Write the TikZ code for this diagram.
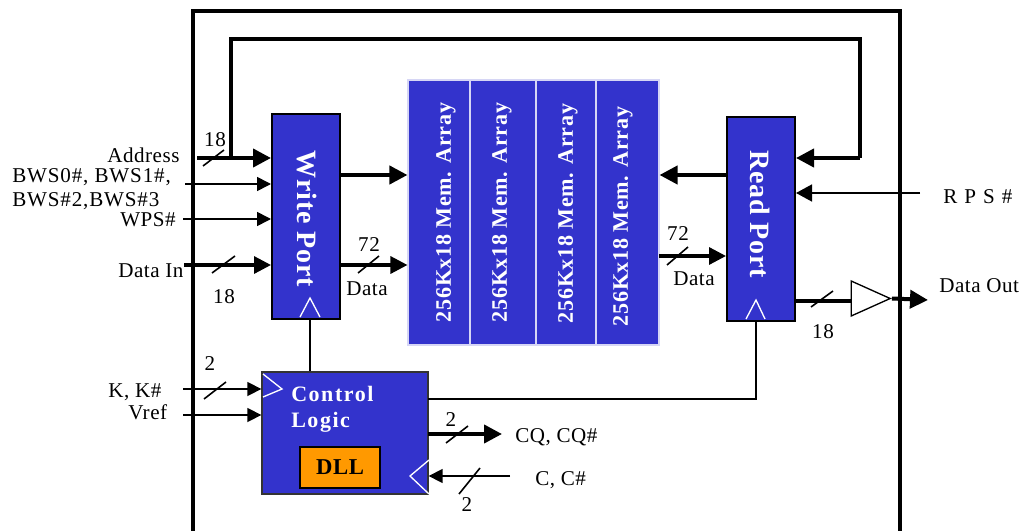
\documentclass[tikz,border=0pt]{standalone}
\usepackage{fontspec}
\setmainfont[LetterSpace=2.5]{Liberation Serif}
\newfontfamily\spacedbf[LetterSpace=3,BoldFont={Liberation Serif Bold}]{Liberation Serif}
\newfontfamily\ctlbf[LetterSpace=7,BoldFont={Liberation Serif Bold}]{Liberation Serif}
\newfontfamily\wideser[LetterSpace=4]{Liberation Serif}
\newfontfamily\plainser{Liberation Serif}
\usetikzlibrary{arrows.meta,shapes.geometric}
\def\px{0.75pt}
\definecolor{blk}{HTML}{3333CC}
\definecolor{dllorange}{HTML}{FF9900}
\tikzset{
  x=0.75pt,y=-0.75pt,
  lab/.style={inner sep=0pt,font=\fontsize{15.8pt}{17pt}\selectfont},
  labl/.style={lab,anchor=west},
  block/.style={draw=black,line width=1.5pt,fill=blk,inner sep=0pt,text=white},
  memcell/.style={draw=white!80!blk,line width=0.8pt,fill=blk,inner sep=0pt,minimum width=#1*\px,minimum height=265*\px},
  portlab/.style={text=white,inner sep=0pt,rotate=-90,font=\fontsize{21pt}{23pt}\spacedbf\bfseries},
  memlab/.style={text=white,inner sep=0pt,rotate=90,font=\fontsize{16.6pt}{18pt}\spacedbf\bfseries},
  ctllab/.style={inner sep=0pt,text=white,anchor=west,font=\fontsize{16.5pt}{18pt}\ctlbf\bfseries},
  thin arrow/.style={line width=1.2pt,-{Triangle[length=14*\px,width=14*\px]}},
  mid arrow/.style={line width=2.4pt,-{Triangle[length=17*\px,width=17*\px]}},
  thick arrow/.style={line width=3pt,-{Triangle[length=18*\px,width=18*\px]}},
  slash/.style={line width=1.2pt},
  wire/.style={line width=1.3pt},
  chev/.style={white,line width=1pt},
}
\begin{document}
\begin{tikzpicture}
\useasboundingbox (0,0) rectangle (1023,531);
% frame
\coordinate (fa) at (193,531); \coordinate (fb) at (193,11);
\coordinate (fc) at (900,11); \coordinate (fd) at (900,531);
\draw[line width=2.5pt] (fa) -- (fb) -- (fc) -- (fd);
% blocks
\node[block,minimum width=68*\px,minimum height=205*\px] (wp) at (306,216.5) {};
\node[block,minimum width=68*\px,minimum height=204*\px] (rp) at (761,219) {};
\node[portlab] (wpl) at (307,219) {Write Port};
\node[portlab] (rpl) at (760,214) {Read Port};
\node[memcell=62] (m1) at (439,212.5) {};
\node[memcell=66] (m2) at (503,212.5) {};
\node[memcell=60] (m3) at (566,212.5) {};
\node[memcell=63] (m4) at (627.5,212.5) {};
\node[memlab] (m1l) at (446,212.5) {256Kx18 Mem. Array};
\node[memlab] (m2l) at (502,212.5) {256Kx18 Mem. Array};
\node[memlab] (m3l) at (568,213.5) {256Kx18 Mem. Array};
\node[memlab] (m4l) at (623,216.5) {256Kx18 Mem. Array};
\node[draw=black!80,line width=1pt,fill=blk,inner sep=0pt,minimum width=166*\px,minimum height=122*\px] (cl) at (345,433) {};
\node[ctllab] (cl1) at (291,394) {Control};
\node[ctllab] (cl2) at (291,422) {Logic};
\node[draw=black,line width=1.2pt,fill=dllorange,inner sep=0pt,minimum width=80*\px,minimum height=41*\px,font=\fontsize{17pt}{18pt}\spacedbf\bfseries] (dll) at (340,467.5) {DLL};
% chevrons
\coordinate (wa) at (300,317); \coordinate (wb) at (310,298); \coordinate (wc) at (320,317);
\draw[chev] (wa) -- (wb) -- (wc);
\coordinate (ra) at (746,319); \coordinate (rb) at (756,300); \coordinate (rc) at (765,319);
\draw[chev] (ra) -- (rb) -- (rc);
\coordinate (ka) at (263,374); \coordinate (kb) at (282,389); \coordinate (kc) at (263,397);
\draw[chev] (ka) -- (kb) -- (kc);
\coordinate (ca) at (429,460); \coordinate (cb) at (410,476); \coordinate (cc) at (429,494);
\draw[chev] (ca) -- (cb) -- (cc);
% free ends
\coordinate (sAddr) at (197,158);
\coordinate (sBws) at (185,184);
\coordinate (sWps) at (183,219);
\coordinate (sDin) at (184,265);
\coordinate (sK) at (183,389);
\coordinate (sV) at (183,415);
\coordinate (sRps) at (920,193);
\coordinate (eCq) at (502,434);
\coordinate (sC) at (510,476);
\coordinate (eOut) at (928,300);
\coordinate (busJ) at (231,158);
\coordinate (busA) at (231,39);
\coordinate (busB) at (860,39);
\coordinate (busC) at (860,158);
\coordinate (clkJ) at (756,399);
% buffer
\node[isosceles triangle,isosceles triangle stretches,draw=black,line width=1pt,fill=white,inner sep=0pt,minimum height=39*\px,minimum width=35*\px] (buf) at (862.5,298.5) {};
% connectors
\draw[thick arrow] (sAddr) -- (sAddr -| wp.west);
\draw[line width=3pt] (busJ) -- (busA) -- (busB) -- (busC);
\draw[thick arrow] (busC) -- (busC -| rp.east);
\draw[thin arrow] (sBws) -- (sBws -| wp.west);
\draw[thin arrow] (sWps) -- (sWps -| wp.west);
\draw[mid arrow] (sDin) -- (sDin -| wp.west);
\coordinate (wo1) at (340,175);
\coordinate (wo2) at (340,265);
\draw[thick arrow] (wo1) -- (wo1 -| m1.west);
\draw[mid arrow] (wo2) -- (wo2 -| m1.west);
\coordinate (ro1) at (727,175);
\coordinate (ro2) at (659,256);
\draw[thick arrow] (ro1) -- (ro1 -| m4.east);
\draw[mid arrow] (ro2) -- (ro2 -| rp.west);
\draw[line width=1.2pt,-{Triangle[length=16*\px,width=17*\px]}] (sRps) -- (sRps -| rp.east);
\coordinate (ro3) at (795,301);
\draw[line width=3pt] (ro3) -- (ro3 -| buf.west);
\draw[thick arrow] (buf.apex) -- (eOut);
\draw[wire] (wp.south -| wb) -- (cl.north -| wb);
\coordinate (clR) at (428,399);
\draw[wire] (clR) -- (clkJ) -- (clkJ |- rp.south);
\draw[thin arrow] (sK) -- (sK -| cl.west);
\draw[thin arrow] (sV) -- (sV -| cl.west);
\coordinate (clO) at (428,434);
\draw[thick arrow] (clO) -- (eCq);
\draw[thin arrow] (sC) -- (sC -| cl.east);
% slashes
\draw[slash] (203,166) -- (224,150);
\draw[slash] (212,273) -- (235,256);
\draw[slash] (358,273) -- (379,256);
\draw[slash] (667,265) -- (688,247);
\draw[slash] (811,307) -- (833,291);
\draw[slash] (204,399) -- (226,382);
\draw[slash] (446,443) -- (468,426);
\draw[slash] (459,494) -- (480,468);
% labels
\node[labl] (tA) at (107,155) {Address};
\node[labl,font=\fontsize{15.8pt}{17pt}\wideser] (tB1) at (12,177) {BWS0\#, BWS1\#,};
\node[labl,font=\fontsize{15.8pt}{17pt}\wideser] (tB2) at (12,201) {BWS\#2,BWS\#3};
\node[labl] (tW) at (120,220) {WPS\#};
\node[labl] (tD) at (118,271) {Data In};
\node[lab] (n1) at (215,140) {18};
\node[lab] (n2) at (224,297) {18};
\node[lab] (n3) at (369,245) {72};
\node[lab] (tD2) at (367,289) {Data};
\node[lab] (n4) at (678,234) {72};
\node[lab] (tD3) at (694,279) {Data};
\node[lab] (n5) at (823,332) {18};
\node[labl] (tR) at (943,197) {R\,\,P\,\,S\,\,\#};
\node[labl] (tO) at (939,286) {Data Out};
\node[lab] (n6) at (210,364) {2};
\node[labl] (tK) at (108,392) {K, K\#};
\node[labl] (tV) at (128,412) {Vref};
\node[lab] (n7) at (451,420) {2};
\node[labl] (tC1) at (515,437) {CQ, CQ\#};
\node[labl] (tC2) at (535,480) {C, C\#};
\node[lab] (n8) at (467,505) {2};
\end{tikzpicture}
\end{document}
